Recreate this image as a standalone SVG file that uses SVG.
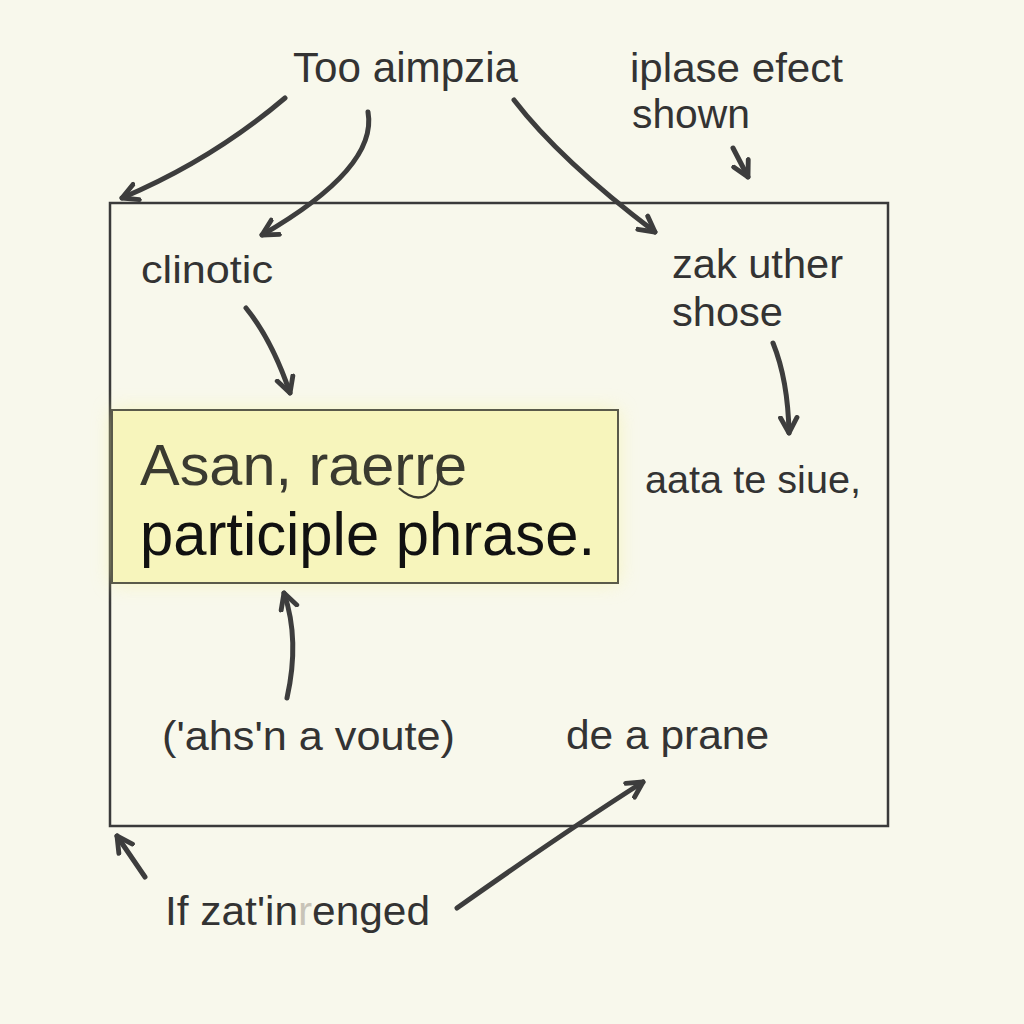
<svg xmlns="http://www.w3.org/2000/svg" width="1024" height="1024" viewBox="0 0 1024 1024">
<defs>
<marker id="ah" viewBox="0 0 20 20" refX="16" refY="10" markerWidth="4.4" markerHeight="4.4" orient="auto" markerUnits="strokeWidth">
<path d="M2,2.5 L16,10 L2,17.5" fill="none" stroke="#3d3d3d" stroke-width="4.4" stroke-linecap="round" stroke-linejoin="round"/>
</marker>
<filter id="glow" x="-20%" y="-30%" width="140%" height="160%">
<feGaussianBlur stdDeviation="10"/>
</filter>
<style>
.t{font-family:"Liberation Sans",Arial,sans-serif;fill:#333;font-size:40px}
.c{fill:none;stroke:#3d3d3d;stroke-width:5;stroke-linecap:round;marker-end:url(#ah)}
</style>
</defs>
<rect width="1024" height="1024" fill="#f8f8ec"/>
<g id="frame">
<rect x="110" y="203" width="778" height="623" fill="none" stroke="#3a3a3a" stroke-width="2.5"/>
</g>
<g id="highlight">
<rect x="112" y="410" width="506" height="173" fill="#f5f2a0" opacity="0.6" filter="url(#glow)"/>
<rect x="112" y="410" width="506" height="173" fill="#f7f5bc" stroke="#5a5a4a" stroke-width="2"/>
<text class="t" x="140" y="485" style="font-size:57px;fill:#3a3a30" textLength="327" lengthAdjust="spacingAndGlyphs">Asan, raerre</text>
<path d="M399,488 Q418,506 434,490 Q440,482 438,467" fill="none" stroke="#3a3a30" stroke-width="2.2"/>
<text class="t" x="140" y="555" style="font-size:62px;fill:#111" textLength="455" lengthAdjust="spacingAndGlyphs">participle phrase.</text>
</g>
<g id="n-top"><text class="t" x="293" y="82" style="font-size:42px" textLength="225" lengthAdjust="spacingAndGlyphs">Too aimpzia</text></g>
<g id="n-topright"><text class="t" x="630" y="82" textLength="213" lengthAdjust="spacingAndGlyphs">iplase efect</text><text class="t" x="632" y="128" textLength="118" lengthAdjust="spacingAndGlyphs">shown</text></g>
<g id="n-clinotic"><text class="t" x="141" y="283" style="font-size:38px" textLength="132" lengthAdjust="spacingAndGlyphs">clinotic</text></g>
<g id="n-zak"><text class="t" x="672" y="278" textLength="171" lengthAdjust="spacingAndGlyphs">zak uther</text><text class="t" x="672" y="326" textLength="111" lengthAdjust="spacingAndGlyphs">shose</text></g>
<g id="n-aata"><text class="t" x="645" y="493" style="font-size:38px" textLength="216" lengthAdjust="spacingAndGlyphs">aata te siue,</text></g>
<g id="n-ahs"><text class="t" x="162" y="750" textLength="293" lengthAdjust="spacingAndGlyphs">('ahs'n a voute)</text></g>
<g id="n-prane"><text class="t" x="566" y="749" textLength="203" lengthAdjust="spacingAndGlyphs">de a prane</text></g>
<g id="n-if"><text class="t" x="165" y="925" textLength="265" lengthAdjust="spacingAndGlyphs">If zat'in<tspan style="fill:#c8c4b8">r</tspan>enged</text></g>
<g id="connectors">
<path class="c" d="M285,98 Q212,160 122,198"/>
<path class="c" d="M368,112 Q378,168 262,235"/>
<path class="c" d="M514,100 Q560,160 655,232"/>
<path class="c" d="M733,148 L748,177"/>
<path class="c" d="M246,308 Q272,340 290,393"/>
<path class="c" d="M773,343 Q788,380 789,433"/>
<path class="c" d="M287,698 Q300,640 284,593"/>
<path class="c" d="M145,877 L117,836"/>
<path class="c" d="M457,908 Q560,835 643,782"/>
</g>
</svg>
